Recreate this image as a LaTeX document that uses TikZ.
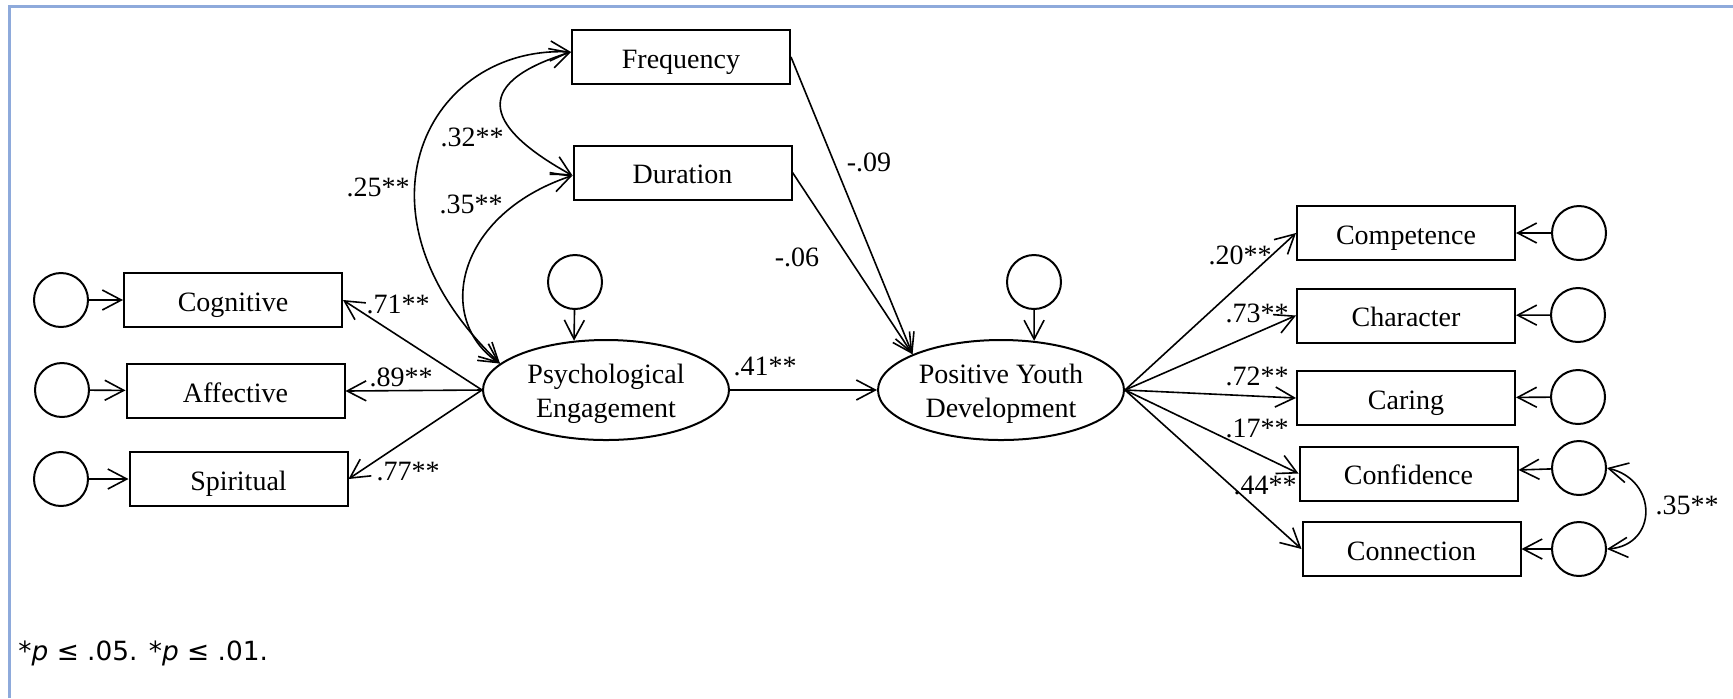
\documentclass[tikz,border=0pt]{standalone}
\usepackage{fontspec}
\setmainfont{Liberation Serif}
\newfontfamily\notefont{DejaVu Sans}
\usetikzlibrary{arrows.meta,shapes.geometric,calc}
\definecolor{frameblue}{RGB}{142,170,219}
\begin{document}
\begin{tikzpicture}[x=0.5pt,y=-0.5pt,
  every node/.style={font=\fontsize{14}{17}\selectfont},
  obs/.style={draw,line width=1pt,minimum width=109pt,minimum height=27pt,inner sep=0pt,text height=12pt,text depth=1pt},
  lat/.style={draw,ellipse,line width=1pt,minimum width=123pt,minimum height=50pt,inner sep=0pt,align=center,text height=30pt,text depth=3pt},
  err/.style={draw,circle,line width=1pt,minimum size=27pt,inner sep=0pt},
  lab/.style={inner sep=0pt},
  arrowline/.style={line width=0.8pt,-{Straight Barb[length=9.5pt,width=10pt]}},
  cov/.style={line width=0.8pt,{Straight Barb[length=9.5pt,width=10pt]}-{Straight Barb[length=9.5pt,width=10pt]}}
]
\useasboundingbox (0,0) rectangle (1733,698);
\draw[frameblue,line width=1.5pt] (9,698) -- (9,6) -- (1733,6);

% observed and latent nodes
\node[obs] (freq) at (681,57) {Frequency};
\node[obs] (dur) at (682.5,172.5) {Duration};
\node[obs] (cog) at (233,300) {Cognitive};
\node[obs] (aff) at (235.5,391) {Affective};
\node[obs] (spi) at (238.5,479) {Spiritual};
\node[err] (cogE) at (61,300) {};
\node[err] (affE) at (62,390) {};
\node[err] (spiE) at (61,479) {};
\node[lat] (psy) at (606,390) {Psychological\\Engagement};
\node[err] (psyE) at (575,282) {};
\node[lat] (pyd) at (1001,390) {Positive Youth\\Development};
\node[err] (pydE) at (1034,282) {};
\node[obs] (comp) at (1406,233) {Competence};
\node[obs] (char) at (1406,315.5) {Character};
\node[obs] (car) at (1406,398) {Caring};
\node[obs] (conf) at (1408.5,473.5) {Confidence};
\node[obs] (conn) at (1411.5,549) {Connection};
\node[err] (compE) at (1579,233) {};
\node[err] (charE) at (1578,315) {};
\node[err] (carE) at (1578,397) {};
\node[err] (confE) at (1579,468) {};
\node[err] (connE) at (1579,549) {};

% error arrows
\draw[arrowline] (cogE) -- (cog);
\draw[arrowline] (affE) -- (aff);
\draw[arrowline] (spiE) -- (spi);
\draw[arrowline] (psyE) -- (psy.123);
\draw[arrowline] (pydE) -- (pyd.56);
\draw[arrowline] (compE) -- (comp);
\draw[arrowline] (charE) -- (char);
\draw[arrowline] (carE) -- (car);
\draw[arrowline] (confE) -- (conf);
\draw[arrowline] (connE) -- (conn);

% loadings
\draw[arrowline] (psy.west) -- (cog.east);
\draw[arrowline] (psy.west) -- (aff.east);
\draw[arrowline] (psy.west) -- (spi.east);
\draw[arrowline] (pyd.east) -- (comp.west);
\draw[arrowline] (pyd.east) -- (char.west);
\draw[arrowline] (pyd.east) -- (car.west);
\draw[arrowline] (pyd.east) -- (conf.west);
\draw[arrowline] (pyd.east) -- (conn.west);

% structural paths
\draw[arrowline] (psy.east) -- (pyd.west);
\draw[arrowline] (freq.east) -- (pyd.158);
\draw[arrowline] (dur.east) -- (pyd.158);

% covariances
\draw[cov] (psy.166) .. controls (340,210) and (430,45) .. ([yshift=2.5pt]freq.west);
\draw[cov] ([yshift=2.5pt]freq.west) .. controls (465,85) and (490,130) .. ([yshift=-1.5pt]dur.west);
\draw[cov] ([yshift=-1.5pt]dur.west) .. controls (455,215) and (435,320) .. (psy.166);
\draw[cov] (confE.east) .. controls (1658,480) and (1658,545) .. (connE.east);

% labels
\node[lab] (l25) at (378,187) {.25**};
\node[lab] (l32) at (472,137) {.32**};
\node[lab] (l35) at (471,204) {.35**};
\node[lab] (l71) at (398,304) {.71**};
\node[lab] (l89) at (401,377) {.89**};
\node[lab] (l77) at (408,472) {.77**};
\node[lab] (l09) at (869,162) {-.09};
\node[lab] (l06) at (797,257) {-.06};
\node[lab] (l41) at (765,366) {.41**};
\node[lab] (l20) at (1240,255) {.20**};
\node[lab] (l73) at (1257,313) {.73**};
\node[lab] (l72) at (1257,376) {.72**};
\node[lab] (l17) at (1257,428) {.17**};
\node[lab] (l44) at (1265,485) {.44**};
\node[lab] (lr35) at (1687,505) {.35**};

\node[anchor=base west,inner sep=0pt,font=\notefont\fontsize{13.2}{16}\selectfont] (note) at (18,660) {*\textit{p} ≤ .05. *\textit{p} ≤ .01.};
\end{tikzpicture}
\end{document}
